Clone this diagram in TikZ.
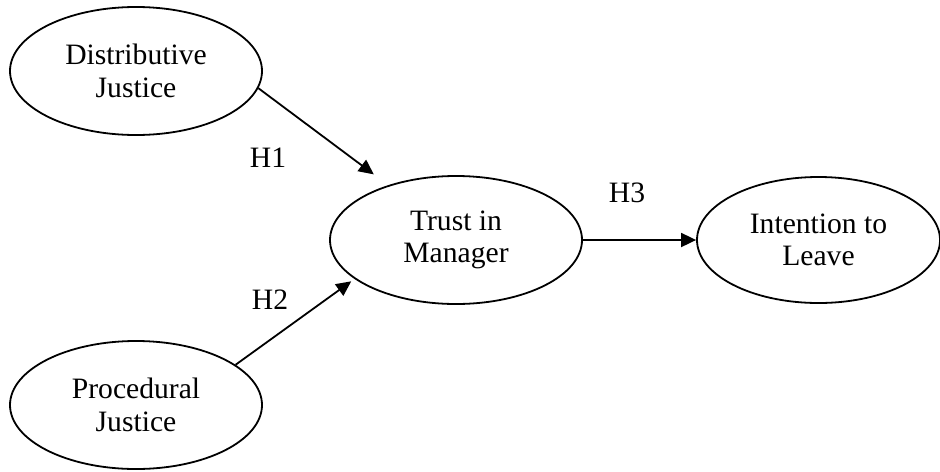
\documentclass[tikz,border=0pt]{standalone}
\usepackage{fontspec}
\setmainfont{Liberation Serif}
\usetikzlibrary{shapes,arrows,positioning,calc,arrows.meta}

\begin{document}
\begin{tikzpicture}[x=0.5pt, y=-0.5pt,
    construct/.style={ellipse, draw, line width=0.9pt, minimum width=126pt, minimum height=64pt, align=center, font=\fontsize{14.8}{16.2}\selectfont},
    hyp/.style={font=\fontsize{14.8}{16.2}\selectfont},
    path/.style={-{Triangle[length=7.5pt, width=7pt]}, line width=0.9pt}]
    \useasboundingbox (0,0) rectangle (940,471);

    % Constructs
    \node[construct] (DJ) at (136,71) {Distributive\\Justice};
    \node[construct] (PJ) at (136,405) {Procedural\\Justice};
    \node[construct] (TM) at (456,240) {Trust in\\Manager};
    \node[construct, minimum width=121.5pt, minimum height=63pt] (IL) at (818.5,240) {Intention to\\Leave};

    % Hypotheses
    \draw[path, shorten >=9pt] (DJ.-8) -- (TM.141);
    \node[hyp] (H1) at (268,158) {H1};

    \draw[path, shorten >=2pt] (PJ.22) -- (TM.201);
    \node[hyp] (H2) at (270,300) {H2};

    \draw[path] (TM.east) -- (IL.west);
    \node[hyp] (H3) at (627,193) {H3};
\end{tikzpicture}
\end{document}
